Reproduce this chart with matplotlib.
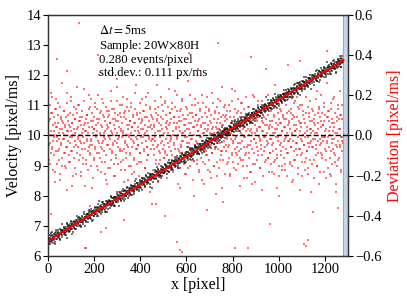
import numpy as np
import matplotlib
matplotlib.use("Agg")
import matplotlib.pyplot as plt

plt.rcParams['font.family'] = ['Liberation Serif', 'DejaVu Serif']
plt.rcParams['mathtext.fontset'] = 'stix'

# deviation values (units of 0.01 px/ms)
dev_cent_a = [
3,-12,7,15,-4,-9,21,0,-6,11,-17,5,2,-1,9,-23,13,-8,4,18,-3,-14,6,10,-2,
-7,1,14,-19,8,-5,3,26,-11,-2,6,-9,12,0,-15,4,9,-6,-27,2,16,-3,7,-10,5,
11,-4,-13,2,19,-8,6,-1,-20,10,3,-6,8,-16,1,13,-5,24,-9,4,-2,15,-12,7,-3,
0,9,-18,5,-7,12,-1,3,-11,17,-4,6,-25,2,8,-14,10,-3,1,-8,20,-6,4,-10,14,
-2,7,-15,11,-5,1,-21,9,3,-12,16,-7,5,-1,13,-9,2,-17,6,30,-4,8,-11,0,12,
-6,4,-13,18,-3,10,-8,1,-19,7,-2,14,-10,5,-24,3,9,-5,12,-1,-16,6,-7,22,2,
-9,13,-4,0,8,-14,5,-20,11,-3,7,-11,17,1,-6,10,-2,-28,4,15,-8,3,-13,9,-1,
6,-12,2,19,-7,11,-4,-17,8,0,-9,14,-5,3,-22,12,-1,5,-10,7,-15,1,16,-6,4,
-3,9,-18,6,-11,2,13,-7,25,-2,10,-14,4,-5,8,-20,1,11,-9,3,-13,18,-4,7,-1,
12,-8,0,-16,5,9,-3,15,-12,2,-6,21,-10,7,-1,-19,4,13,-7,10,-34,3,-5,8,-2,
5,-10,17,-3,1,-14,11,-6,8,-23,2,14,-8,6,-1,-12,19,-4,9,-17,3,-7,12,0,-11,
-5,16,-9,4,-2,10,-21,7,1,-13,5,23,-6,11,-3,-15,8,-1,13,-10,2,-18,6,-4,9,
14,-7,3,-12,20,-2,6,-16,0,9,-8,4,-26,12,-5,7,-11,1,17,-3,10,-14,5,-9,2,
-1,8,-19,13,-6,3,-10,27,-4,6,-15,1,11,-7,-2,15,-12,4,-22,9,0,-8,18,-5,7,
10,-3,-14,5,-9,16,2,-18,8,-1,12,-6,-11,4,20,-7,1,-13,6,-4,-24,11,3,-10,14,
-8,2,9,-17,5,-3,13,-12,1,7,-21,10,-5,3,-9,16,-2,8,-15,0,12,-6,-29,4,6,
3,-13,18,-7,11,-1,-16,6,-4,9,-10,2,24,-8,5,-12,14,-3,1,-19,7,-5,10,-2,-14,
8,-6,1,15,-11,4,-20,12,-2,6,-9,17,-4,0,-13,9,3,-7,22,-1,-17,5,11,-10,2,
-4,12,-8,5,-25,9,1,-12,16,-3,7,-15,3,-6,13,-1,-10,4,19,-9,2,-21,8,-5,10,
0,-11,14,-5,6,-18,3,10,-7,1,-14,20,-2,8,-9,5,-23,12,-4,7,-12,2,15,-8,-1,
9,-16,4,-3,11,-7,17,-10,2,-20,6,-1,13,-13,5,-6,8,33,-5,1,-11,10,-4,-18,3,
-9,7,-2,12,-14,4,-5,18,-8,1,9,-19,3,-12,14,-1,6,-10,-26,11,-3,5,-15,8,0,
13,-4,-10,6,-17,2,10,-6,21,-11,4,-2,-14,8,-7,15,1,-20,5,-9,12,-3,7,-13,3,
-6,11,-15,1,8,-3,-22,9,-8,16,2,-12,5,-4,19,-10,3,-1,-16,7,13,-7,-27,6,-2,
4,-9,15,-13,0,10,-5,23,-17,6,-1,11,-11,2,-8,14,-4,-19,9,-6,3,17,-12,1,-3,
7,-14,2,12,-6,-21,8,-2,5,-10,18,-7,1,-15,11,-3,6,-24,13,-5,9,-9,4,20,-1,
-10,5,-3,14,-18,7,-1,10,-12,3,-8,26,-4,9,-16,2,-6,12,-11,0,16,-20,6,-2,8,
2,-7,19,-9,4,-13,11,-5,-28,7,1,-15,13,-3,8,-11,22,-6,3,-18,10,-1,-8,15,-4,
]
dev_cent_b = [
-5,8,-14,2,11,-7,19,-3,0,-10,6,-18,13,-1,4,-8,16,-12,3,-22,9,-4,7,-15,1,
12,-2,-9,5,-16,21,-6,2,10,-13,4,-1,17,-8,-25,6,0,-11,14,-3,8,-19,3,11,-6,
-1,15,-10,7,-4,-20,1,9,-14,5,23,-7,2,-12,10,-2,-17,6,13,-5,-9,18,-3,4,-26,
7,-11,3,14,-6,0,-15,8,-3,20,-9,1,11,-18,5,-4,-7,16,-1,9,-13,2,-22,12,-5,
4,-16,10,-2,6,-12,17,-8,1,-5,13,-20,3,8,-10,24,-4,-14,7,-1,11,-7,2,-17,15,
-8,1,-23,9,-3,12,-11,5,18,-6,0,-15,7,-9,14,-2,4,-19,10,-4,-12,6,21,-1,-7,
11,-5,2,-13,16,-9,6,-1,-21,8,3,-7,12,-16,1,19,-6,9,-10,4,-2,14,-28,5,-3,
-2,9,-17,4,-7,13,-1,-12,7,25,-5,10,-14,2,-9,5,-20,15,-3,8,-11,1,17,-8,6,
3,-10,14,-4,-18,6,11,-2,-8,16,-13,0,9,-5,22,-15,4,-1,12,-7,-24,7,2,-9,13,
-6,18,-3,1,-11,8,-19,5,14,-4,-1,10,-16,3,-7,20,-12,6,-2,11,-9,-30,4,15,-5,
10,-4,-12,7,2,-17,13,-6,5,-1,-22,9,16,-8,1,-14,6,-3,19,-10,3,-5,12,-18,0,
-3,6,21,-9,4,-15,1,11,-7,-2,14,-20,8,-4,3,-12,17,-1,-8,5,-26,10,-6,2,9,
15,-8,-1,12,-13,3,-5,9,-19,6,1,-10,23,-3,-16,7,-2,13,-9,4,-6,18,-14,2,-11,
-4,11,-7,0,16,-12,5,-21,8,-1,10,-6,-15,3,14,-9,2,-18,7,-3,11,-24,6,-2,19,
1,-14,8,-6,3,17,-10,4,-2,-16,12,-5,7,-27,2,9,-8,15,-1,-12,5,-3,20,-11,4,
-9,5,-2,13,-18,7,-4,10,-13,1,25,-7,3,-11,16,-1,-20,6,-5,12,-8,2,-15,9,-3,
8,-17,4,-1,11,-9,18,-3,6,-14,-2,13,-6,0,-23,10,5,-12,2,17,-7,-4,9,-19,14,
-7,2,15,-10,6,-3,-20,12,-5,8,1,-13,19,-8,4,-1,-16,11,-4,7,-28,3,13,-6,-2,
6,-12,1,10,-5,22,-15,3,-9,14,-2,-18,7,-4,11,-11,5,-1,16,-7,2,-21,9,-3,12,
-1,7,-19,4,-8,13,-4,-14,18,-2,6,-10,1,-24,9,-6,15,-12,3,-5,10,-1,-17,8,-3,
]
dev = np.array(dev_cent_a + dev_cent_b) / 100.0
x_pix = np.concatenate([np.linspace(2, 1278, len(dev_cent_a)),
                        np.linspace(4, 1276, len(dev_cent_b))])

# isolated outlying deviation points
out_x = [134, 82, 260, 281, 737, 165, 558, 572, 580, 810, 867, 1109, 1118, 1127,
         12, 182, 230, 251, 160, 572, 40, 330, 420, 505, 610, 690, 880, 960,
         1040, 1150, 1210, 1255, 215, 760, 1090, 470, 650, 300, 1000, 1180]
out_dev = [0.56, 0.32, 0.31, 0.31, 0.46, -0.56, -0.53, -0.57, -0.58, -0.56, -0.56,
           -0.54, -0.55, -0.52, -0.39, -0.35, -0.48, -0.46, -0.56, 0.30, 0.38,
           -0.42, 0.36, -0.40, 0.41, -0.37, 0.39, -0.44, 0.35, -0.38, 0.42, -0.36,
           0.40, -0.33, 0.37, -0.34, 0.33, 0.28, -0.30, 0.30]

v_start, v_end = 6.5, 12.5     # fitted velocity line at x=0 and x=1280
x_end = 1280
fit_x = [0, x_end]
fit_v = [v_start, v_end]
vel = v_start + (v_end - v_start) * x_pix / x_end + dev

fig = plt.figure(figsize=(4.07, 3.05), dpi=100)
ax = fig.add_axes([0.118, 0.161, 0.737, 0.790])
ax2 = ax.twinx()
ax2.set_zorder(ax.get_zorder() - 1)
ax.patch.set_visible(False)

ax2.axvspan(1280, 1300, color='#c5d6e6', zorder=0)
ax2.axvline(1280, color='#8aa5c0', lw=0.6)
ax2.scatter(x_pix, dev, s=2.6, marker='s', color='red', alpha=0.55, linewidths=0)
ax2.scatter(out_x, out_dev, s=2.6, marker='s', color='red', alpha=0.55, linewidths=0)
ax2.set_ylim(-0.6, 0.6)
ax2.set_yticks(np.arange(-0.6, 0.61, 0.2))
ax2.set_yticklabels(['\u22120.6', '\u22120.4', '\u22120.2', '0.0', '0.2', '0.4', '0.6'])
ax2.set_ylabel('Deviation [pixel/ms]', color='red', fontsize=11.5, labelpad=4)

ax.scatter(x_pix, vel, s=3.5, marker='s', color='black', alpha=0.55, linewidths=0)
ax.plot(fit_x, fit_v, color='red', lw=1.5)
ax.axhline(10, color='black', ls='--', lw=1)
ax.set_xlim(0, 1300)
ax.set_ylim(6, 14)
ax.set_xticks(range(0, 1201, 200))
ax.set_yticks(range(6, 15))
ax.set_xlabel('x [pixel]', fontsize=11.5, labelpad=1)
ax.set_ylabel('Velocity [pixel/ms]', fontsize=11.5, labelpad=3)

for a in (ax, ax2):
    a.tick_params(labelsize=10.5, length=3.5, width=0.8, pad=1.5)
    for sp in a.spines.values():
        sp.set_linewidth(0.9)
        sp.set_color('#333333')

txt = ('$\\Delta t = 5$ms\nSample: 20W$\\times$80H\n0.280 events/pixel\nstd.dev.: 0.111 px/ms')
ax.text(0.17, 0.965, txt, transform=ax.transAxes, fontsize=9.2, va='top', ha='left',
        linespacing=1.05)

fig.savefig('out.png', dpi=100)
